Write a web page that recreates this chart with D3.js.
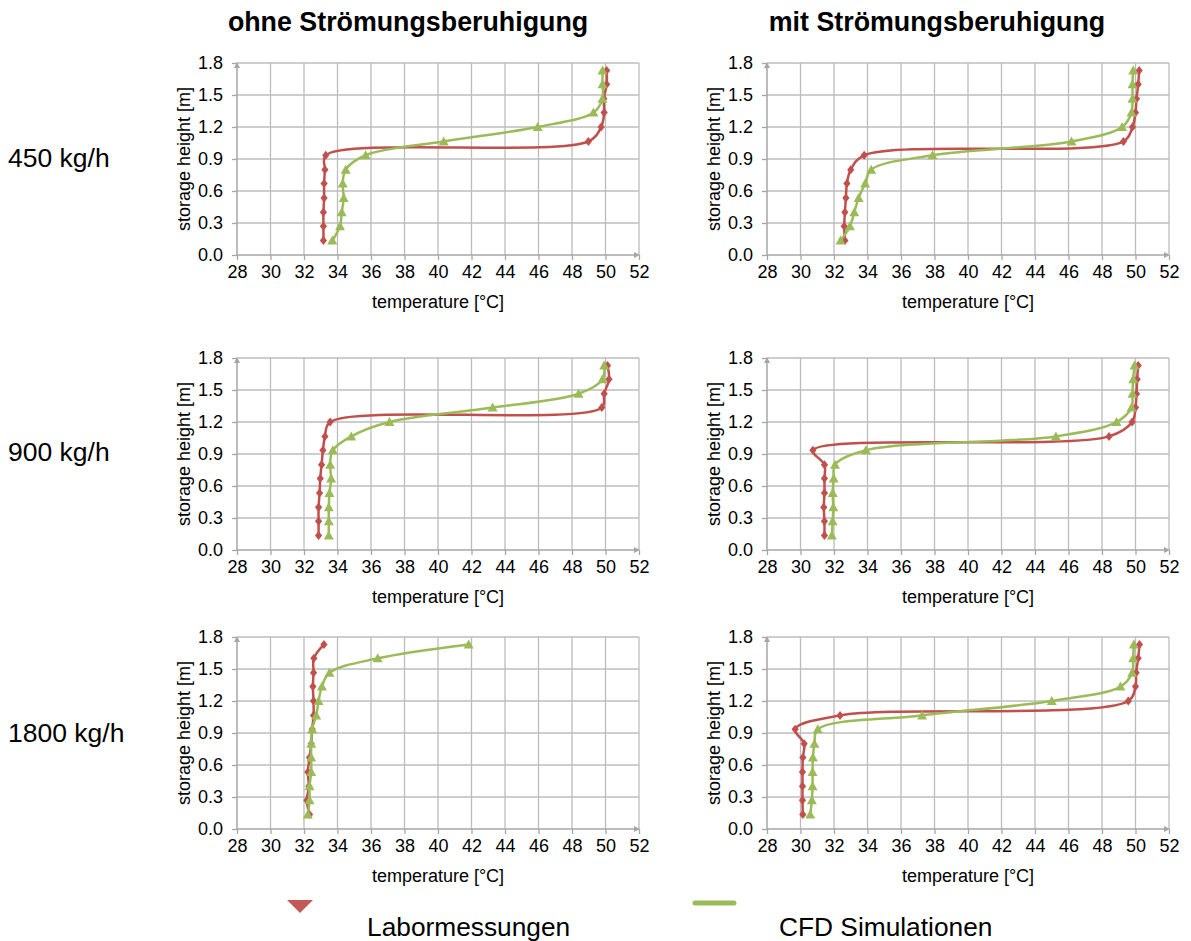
<!DOCTYPE html>
<html>
<head>
<meta charset="utf-8">
<script src="https://cdn.jsdelivr.net/npm/d3@7"></script>
<style>
  body { margin: 0; background: #fff; }
  svg { display: block; font-family: "Liberation Sans", Arial, sans-serif; }
</style>
</head>
<body>
<div class="plot"></div>
<script>
// Data
const heights = [0.135, 0.27, 0.40, 0.535, 0.67, 0.80, 0.935, 1.065, 1.20, 1.335, 1.465, 1.60, 1.73];
const tempTicks = [28, 30, 32, 34, 36, 38, 40, 42, 44, 46, 48, 50, 52];
const heightTicks = [0, 0.3, 0.6, 0.9, 1.2, 1.5, 1.8];
const colTitles = ["ohne Strömungsberuhigung", "mit Strömungsberuhigung"];
const rowLabels = ["450 kg/h", "900 kg/h", "1800 kg/h"];
const seriesNames = ["Labormessungen", "CFD Simulationen"];

// temperatures from bottom (0.135 m) to top (1.73 m)
const labOhne450 = [33.16, 33.16, 33.16, 33.2, 33.2, 33.25, 33.3, 48.98, 49.74, 49.92, 49.9, 50.07, 50.07];
const cfdOhne450 = [33.69, 34.15, 34.25, 34.37, 34.31, 34.49, 35.68, 40.34, 45.95, 49.28, 49.82, 49.82, 49.82];
const labMit450  = [32.65, 32.61, 32.65, 32.71, 32.77, 33.0, 33.8, 49.28, 49.82, 50.0, 50.06, 50.16, 50.22];
const cfdMit450  = [32.39, 32.95, 33.21, 33.47, 33.86, 34.22, 37.88, 46.18, 49.2, 49.76, 49.82, 49.82, 49.86];
const labOhne900 = [32.87, 32.87, 32.87, 32.93, 32.97, 33.05, 33.13, 33.25, 33.56, 49.78, 49.92, 50.21, 50.12];
const cfdOhne900 = [33.48, 33.48, 33.48, 33.52, 33.62, 33.56, 33.72, 34.82, 37.1, 43.26, 48.39, 49.82, 49.92];
const labMit900  = [31.43, 31.43, 31.39, 31.43, 31.43, 31.43, 30.74, 48.42, 49.8, 50.0, 50.06, 50.1, 50.16];
const cfdMit900  = [31.87, 31.92, 31.96, 31.92, 31.98, 32.06, 33.91, 45.25, 48.87, 49.76, 49.82, 49.86, 49.94];
const labOhne1800 = [32.33, 32.17, 32.29, 32.23, 32.33, 32.43, 32.49, 32.57, 32.57, 32.53, 32.57, 32.59, 33.19];
const cfdOhne1800 = [32.23, 32.33, 32.33, 32.43, 32.43, 32.43, 32.49, 32.73, 32.87, 33.07, 33.52, 36.4, 41.83];
const labMit1800  = [30.14, 30.12, 30.12, 30.12, 30.14, 30.22, 29.68, 32.36, 49.57, 50.0, 50.04, 50.16, 50.24];
const cfdMit1800  = [30.58, 30.68, 30.72, 30.72, 30.74, 30.83, 31.03, 37.26, 45.0, 49.1, 49.8, 49.86, 49.9];

const panels = [
    {row: 0, col: 0, lab: labOhne450,  cfd: cfdOhne450},
    {row: 0, col: 1, lab: labMit450,   cfd: cfdMit450},
    {row: 1, col: 0, lab: labOhne900,  cfd: cfdOhne900},
    {row: 1, col: 1, lab: labMit900,   cfd: cfdMit900},
    {row: 2, col: 0, lab: labOhne1800, cfd: cfdOhne1800},
    {row: 2, col: 1, lab: labMit1800,  cfd: cfdMit1800}
];

const red = "#c0504d";
const green = "#9bbb59";
const gridColor = "#bcbcbc";
const axisColor = "#a6a6a6";

// panel placement
const colX = [237, 767];
const rowY = [63, 358, 637];
const pw = 402, ph = 192;

const svg = d3.select(".plot")
    .append("svg")
        .attr("width", 1191)
        .attr("height", 941);

// column titles
svg.selectAll(".col-title")
    .data(colTitles)
    .enter()
    .append("text")
        .attr("x", (d, i) => [408, 937][i])
        .attr("y", 31)
        .attr("text-anchor", "middle")
        .style("font-size", "26.8px")
        .style("font-weight", "bold")
        .text(d => d);

// row labels
svg.selectAll(".row-label")
    .data(rowLabels)
    .enter()
    .append("text")
        .attr("x", 8)
        .attr("y", (d, i) => [167, 461, 742][i])
        .style("font-size", "26.5px")
        .text(d => d);

const line = d3.line().curve(d3.curveCatmullRom.alpha(0.5));

panels.forEach(p => {
    const g = svg.append("g")
        .attr("transform", "translate(" + colX[p.col] + "," + rowY[p.row] + ")");

    const x = d3.scaleLinear().domain([28, 52]).range([0, pw]);
    const y = d3.scaleLinear().domain([0, 1.8]).range([ph, 0]);

    // grid
    g.selectAll(".vgrid")
        .data(tempTicks.slice(1))
        .enter()
        .append("line")
            .attr("x1", d => x(d)).attr("x2", d => x(d))
            .attr("y1", 0).attr("y2", ph)
            .attr("stroke", gridColor)
            .attr("stroke-width", 1.3);
    g.selectAll(".hgrid")
        .data(heightTicks.slice(1))
        .enter()
        .append("line")
            .attr("x1", 0).attr("x2", pw)
            .attr("y1", d => y(d)).attr("y2", d => y(d))
            .attr("stroke", gridColor)
            .attr("stroke-width", 1.3);

    // axes
    const xAxis = d3.axisBottom(x).tickValues(tempTicks).tickSize(5).tickPadding(6).tickFormat(d3.format("d"));
    const yAxis = d3.axisLeft(y).tickValues(heightTicks).tickSize(5).tickPadding(9).tickFormat(d3.format(".1f"));

    const gx = g.append("g")
        .attr("transform", "translate(0," + ph + ")")
        .call(xAxis);
    const gy = g.append("g").call(yAxis);

    [gx, gy].forEach(a => {
        a.select(".domain").remove();
        a.selectAll(".tick line").attr("stroke", axisColor).attr("stroke-width", 1.3);
        a.selectAll("text")
            .attr("fill", "#000")
            .style("font-size", "18px")
            .style("font-family", "Liberation Sans, Arial, sans-serif");
    });
    gx.selectAll("text").attr("dy", "0.71em").attr("y", 10);

    // axis lines with arrows
    g.append("line")
        .attr("x1", 0).attr("x2", 0).attr("y1", ph).attr("y2", 2)
        .attr("stroke", axisColor).attr("stroke-width", 1.5);
    g.append("path")
        .attr("d", "M0,-1L-3,5L3,5Z")
        .attr("fill", axisColor);
    g.append("line")
        .attr("x1", 0).attr("x2", pw - 2).attr("y1", ph).attr("y2", ph)
        .attr("stroke", axisColor).attr("stroke-width", 1.5);
    g.append("path")
        .attr("d", "M" + (pw + 1) + "," + ph + "L" + (pw - 5) + "," + (ph - 3) + "L" + (pw - 5) + "," + (ph + 3) + "Z")
        .attr("fill", axisColor);

    // axis titles
    g.append("text")
        .attr("x", pw / 2)
        .attr("y", ph + 53)
        .attr("text-anchor", "middle")
        .style("font-size", "18px")
        .text("temperature [°C]");
    g.append("text")
        .attr("transform", "rotate(-90)")
        .attr("x", -ph / 2)
        .attr("y", -47)
        .attr("text-anchor", "middle")
        .style("font-size", "18px")
        .text("storage height [m]");

    // series
    const series = [
        {vals: p.lab, color: red, shape: "M0,-4.5L3.6,0L0,4.5L-3.6,0Z"},
        {vals: p.cfd, color: green, shape: "M0,-5L5,4L-5,4Z"}
    ];
    series.forEach(s => {
        const pts = s.vals.map((t, i) => [x(t), y(heights[i])]);
        g.append("path")
            .attr("d", line(pts))
            .attr("fill", "none")
            .attr("stroke", s.color)
            .attr("stroke-width", 2.5);
        g.selectAll(null)
            .data(pts)
            .enter()
            .append("path")
                .attr("transform", d => "translate(" + d[0] + "," + d[1] + ")")
                .attr("d", s.shape)
                .attr("fill", s.color);
    });
});

// legend (clipped at the top, as in the source)
svg.append("clipPath")
    .attr("id", "legclip")
    .append("rect")
        .attr("x", 0).attr("y", 900).attr("width", 1191).attr("height", 41);

const leg = svg.append("g").attr("clip-path", "url(#legclip)");
leg.append("path")
    .attr("d", "M300,888L313,900L300,913L287,900Z")
    .attr("fill", red)
    .attr("opacity", 0.95);
leg.append("line")
    .attr("x1", 695).attr("x2", 734)
    .attr("y1", 903).attr("y2", 903)
    .attr("stroke", green)
    .attr("stroke-width", 5)
    .attr("stroke-linecap", "round");

svg.selectAll(".legend-text")
    .data(seriesNames)
    .enter()
    .append("text")
        .attr("x", (d, i) => [367, 779][i])
        .attr("y", 936)
        .style("font-size", "26.3px")
        .text(d => d);
</script>
</body>
</html>
